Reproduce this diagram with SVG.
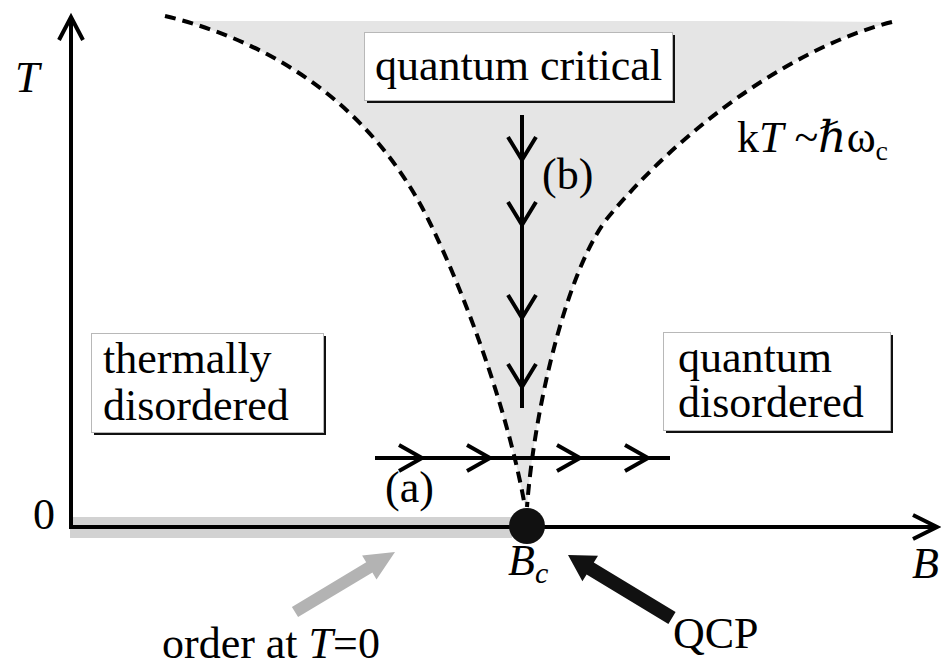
<svg xmlns="http://www.w3.org/2000/svg" width="941" height="667" viewBox="0 0 941 667">
<style>
  text { font-family: "Liberation Serif", "DejaVu Serif", serif; font-size: 44px; fill: #000; }
  .it { font-style: italic; }
  .ax { stroke: #000; stroke-width: 4; fill: none; }
  .flow { stroke: #000; stroke-width: 4; fill: none; }
  .chev { stroke: #000; stroke-width: 4; fill: none; stroke-linejoin: miter; }
  .dash { stroke: #000; stroke-width: 4; fill: none; stroke-dasharray: 11 7; }
  .boxbg { fill: #fff; stroke: #b8b8b8; stroke-width: 1; }
  .shadow { fill: #111; }
</style>
<defs>
  <clipPath id="topclip"><rect x="0" y="21" width="941" height="646"/></clipPath>
</defs>
<rect width="941" height="667" fill="#fff"/>

<g id="quantum-critical-region">
  <path clip-path="url(#topclip)" fill="#e5e5e5" d="M165,16 C265,40 370,100 430,223 C470,305 510,420 525,507 L527,507 C535,400 570,262 610,215 C690,120 800,45 892,22 Z"/>
</g>

<g id="order-band">
  <rect x="70" y="517" width="442" height="21" fill="#d2d2d2"/>
</g>

<g id="connectors">
  <path class="dash" d="M165,16 C265,40 370,100 430,223 C470,305 510,420 525,507"/>
  <path class="dash" d="M892,22 C800,45 690,120 610,215 C570,262 535,400 527,507"/>
  <!-- axes -->
  <path class="ax" d="M71,17 V527 H937"/>
  <path class="ax" d="M59,40 L71,17 L83,40"/>
  <path class="ax" d="M913,515 L937,527 L913,539"/>
  <!-- flow (a) -->
  <path class="flow" d="M375,458 H670"/>
  <path class="chev" d="M399,445 L422,458 L399,471 M467,445 L490,458 L467,471 M557,445 L580,458 L557,471 M625,445 L648,458 L625,471"/>
  <!-- flow (b) -->
  <path class="flow" d="M522,115 V408"/>
  <path class="chev" d="M508,137 L522,160 L536,137 M508,202 L522,225 L536,202 M508,295 L522,318 L536,295 M508,364 L522,387 L536,364"/>
  <!-- pointer arrows -->
  <polygon fill="#b3b3b3" points="291.9,606.9 366.2,562.3 362.1,555.4 395,552 376.5,579.4 372.4,572.5 298.1,617.1"/>
  <polygon fill="#111" points="675.6,612 593.8,562.5 598,555.7 568,555 582.4,581.3 586.6,574.5 668.4,624"/>
</g>

<g id="qcp-dot">
  <circle cx="527" cy="526" r="18" fill="#111"/>
</g>

<g id="box-quantum-critical">
  <rect class="shadow" x="367" y="35" width="308" height="68"/>
  <rect class="boxbg" x="364.5" y="32.5" width="308" height="68"/>
  <text x="375" y="80">quantum critical</text>
</g>

<g id="box-thermally-disordered">
  <rect class="shadow" x="94" y="336" width="232" height="99"/>
  <rect class="boxbg" x="91.5" y="333.5" width="232" height="99"/>
  <text x="103" y="373">thermally</text>
  <text x="103" y="420">disordered</text>
</g>

<g id="box-quantum-disordered">
  <rect class="shadow" x="666" y="335" width="227" height="98"/>
  <rect class="boxbg" x="663.5" y="332.5" width="227" height="98"/>
  <text x="678" y="372">quantum</text>
  <text x="678" y="417">disordered</text>
</g>

<g id="labels">
  <text class="it" x="15" y="92">T</text>
  <text x="33" y="529">0</text>
  <text class="it" x="912" y="578" font-size="42">B</text>
  <text x="508" y="575" font-size="42"><tspan class="it">B</tspan><tspan class="it" font-size="30" dy="8">c</tspan></text>
  <text x="385" y="502">(a)</text>
  <text x="542" y="189">(b)</text>
  <text x="737" y="152">k<tspan class="it">T</tspan> ~ℏω<tspan font-size="28" dy="8">c</tspan></text>
  <text x="673" y="648">QCP</text>
  <text x="162" y="658">order at <tspan class="it">T</tspan>=0</text>
</g>
</svg>
